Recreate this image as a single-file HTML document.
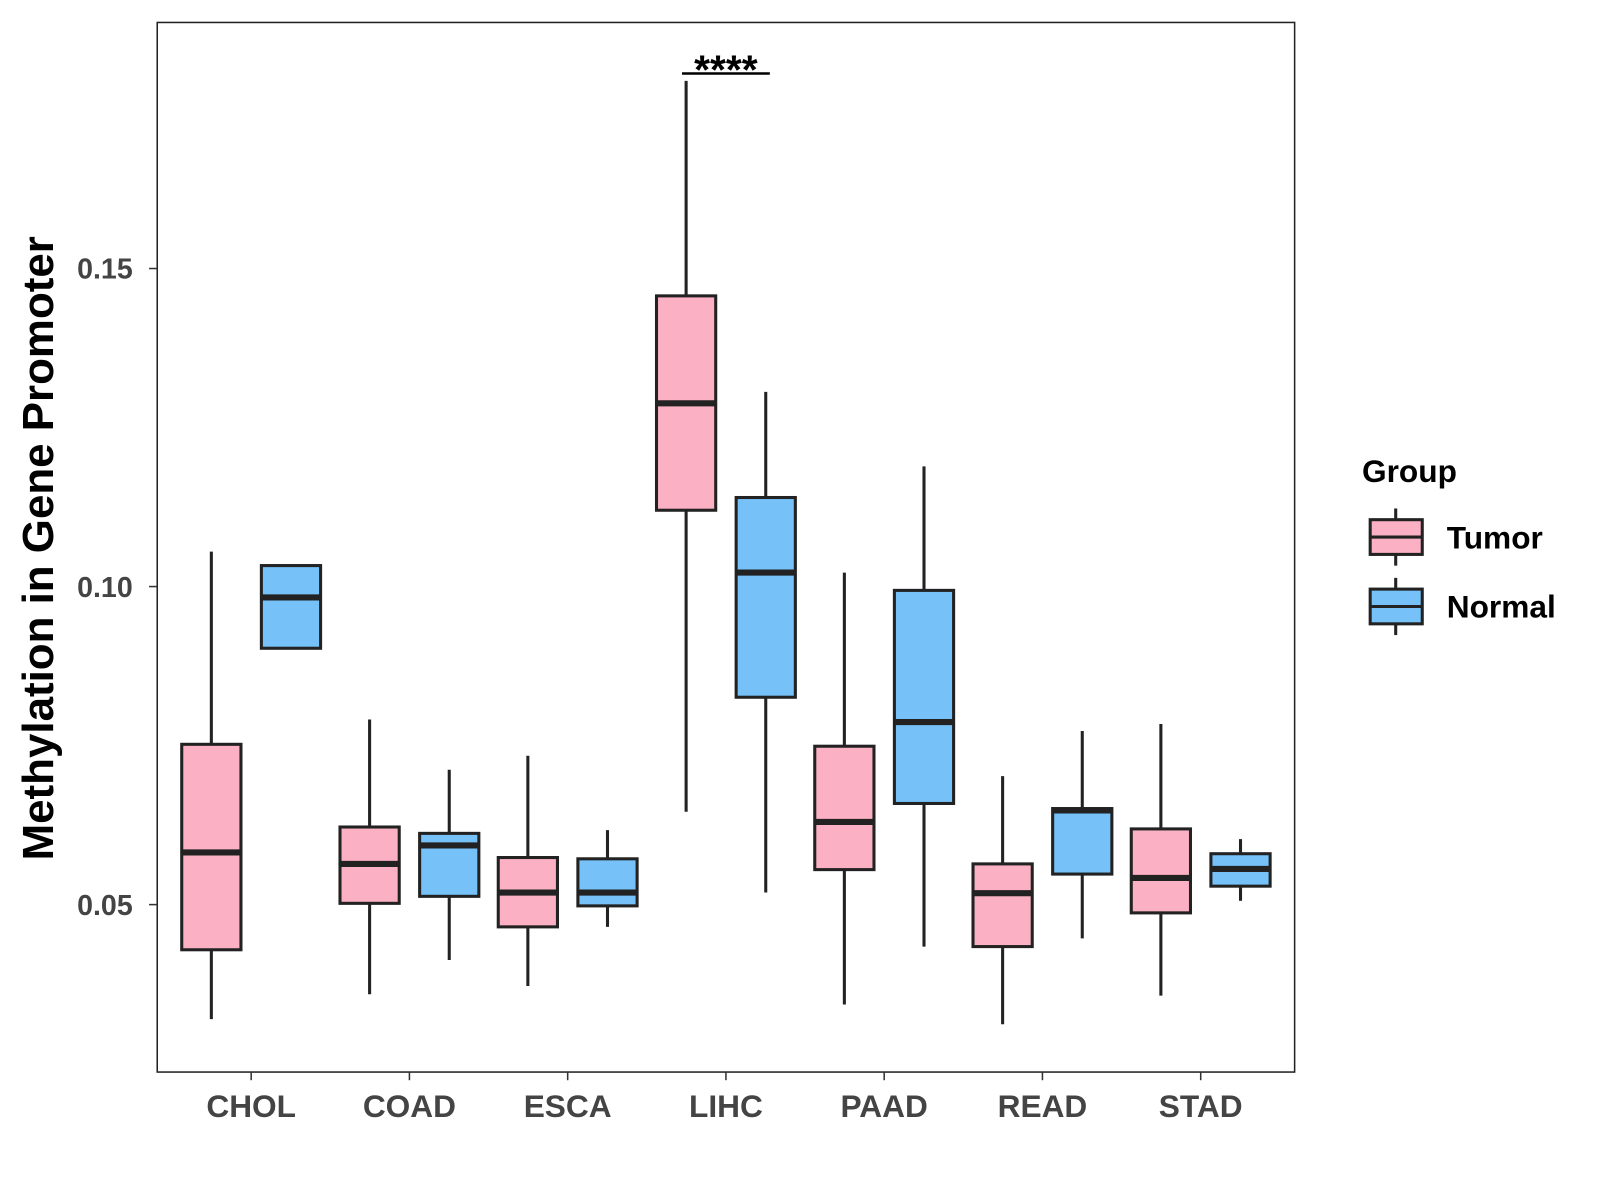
<!DOCTYPE html>
<html><head><meta charset="utf-8"><style>
html,body{margin:0;padding:0;background:#fff;width:1600px;height:1200px;overflow:hidden}
svg{font-family:"Liberation Sans",Arial,sans-serif}
</style></head><body>
<svg width="1600" height="1200"><g id="chart" transform="scale(1.021)"></g></svg>
<script>
const categories=["CHOL","COAD","ESCA","LIHC","PAAD","READ","STAD"];
const groups=["Tumor","Normal"];
const tumorLow=[0.0320,0.0359,0.0372,0.0646,0.0343,0.0312,0.0357];
const tumorQ1=[0.0429,0.0502,0.0465,0.1120,0.0555,0.0434,0.0487];
const tumorMed=[0.0582,0.0564,0.0519,0.1288,0.0630,0.0518,0.0542];
const tumorQ3=[0.0752,0.0622,0.0574,0.1457,0.0749,0.0564,0.0619];
const tumorHigh=[0.1055,0.0791,0.0734,0.1795,0.1022,0.0702,0.0784];
const normalLow=[0.0901,0.0413,0.0465,0.0519,0.0434,0.0447,0.0506];
const normalQ1=[0.0903,0.0513,0.0498,0.0826,0.0659,0.0548,0.0529];
const normalMed=[0.0983,0.0593,0.0519,0.1022,0.0787,0.0648,0.0556];
const normalQ3=[0.1033,0.0612,0.0572,0.1140,0.0994,0.0651,0.0580];
const normalHigh=[0.1033,0.0712,0.0617,0.1306,0.1189,0.0773,0.0603];
const yTicks=[0.05,0.10,0.15];
const yTickLabels=["0.05","0.10","0.15"];

const NS="http://www.w3.org/2000/svg";
const svg=document.getElementById('chart');
const L=154,R=1268,T=22,B=1050;
const y=v=>886-(v-0.05)*6230;
const xc=i=>246+i*155;
const colors=["#FBB1C3","#75C1F8"];
function mk(tag,attrs,parent){const e=document.createElementNS(NS,tag);for(const k in attrs)e.setAttribute(k,attrs[k]);(parent||svg).appendChild(e);return e;}

const frame=mk('rect',{x:L,y:T,width:R-L,height:B-T,fill:'none',stroke:'#222','stroke-width':1.5});



yTicks.forEach((v,i)=>{
  const t=mk('line',{x1:L-8,x2:L,y1:y(v),y2:y(v),stroke:'#333','stroke-width':1.5});
  
  
  const tx=mk('text',{x:L-24,y:y(v)+10,'text-anchor':'end','font-size':28,'font-weight':'bold',fill:'#444'});
  tx.textContent=yTickLabels[i];
  
  
});
categories.forEach((c,i)=>{
  const t=mk('line',{x1:xc(i),x2:xc(i),y1:B,y2:B+8,stroke:'#333','stroke-width':1.5});
  
  
  const tx=mk('text',{x:xc(i),y:B+44,'text-anchor':'middle','font-size':31,'font-weight':'bold',fill:'#444'});
  tx.textContent=c;
  
  
});
const yt=mk('text',{x:0,y:0,transform:'translate(52,537) rotate(-90)','text-anchor':'middle','font-size':43,'font-weight':'bold',fill:'#000'});
yt.textContent='Methylation in Gene Promoter';



const sets=[[tumorLow,tumorQ1,tumorMed,tumorQ3,tumorHigh],[normalLow,normalQ1,normalMed,normalQ3,normalHigh]];
categories.forEach((c,i)=>{
  sets.forEach((s,g)=>{
    const cx=xc(i)+(g===0?-39:39),w=58;
    const grp=mk('g',{});
    
    
    mk('line',{x1:cx,x2:cx,y1:y(s[4][i]),y2:y(s[0][i]),stroke:'#222','stroke-width':3},grp);
    mk('rect',{x:cx-w/2,y:y(s[3][i]),width:w,height:y(s[1][i])-y(s[3][i]),fill:colors[g],stroke:'#222','stroke-width':3},grp);
    mk('line',{x1:cx-w/2,x2:cx+w/2,y1:y(s[2][i]),y2:y(s[2][i]),stroke:'#222','stroke-width':6},grp);
  });
});
const sig=mk('line',{x1:668,x2:754,y1:72,y2:72,stroke:'#000','stroke-width':2.5});


const st=mk('text',{x:711,y:82,'text-anchor':'middle','font-size':40,'font-weight':'bold',fill:'#000'});
st.textContent='****';



const lt=mk('text',{x:1334,y:472,'font-size':31,'font-weight':'bold',fill:'#000'});
lt.textContent='Group';


groups.forEach((g,k)=>{
  const top=509+k*68;
  const le=mk('g',{});
  
  
  mk('line',{x1:1367,x2:1367,y1:top-11,y2:top+45,stroke:'#222','stroke-width':3},le);
  mk('rect',{x:1342,y:top,width:51,height:34,fill:colors[k],stroke:'#222','stroke-width':3},le);
  mk('line',{x1:1342,x2:1393,y1:top+17,y2:top+17,stroke:'#222','stroke-width':3},le);
  const t=mk('text',{x:1417,y:top+28,'font-size':31,'font-weight':'bold',fill:'#000'},le);
  t.textContent=g;
});
</script>
</body></html>
